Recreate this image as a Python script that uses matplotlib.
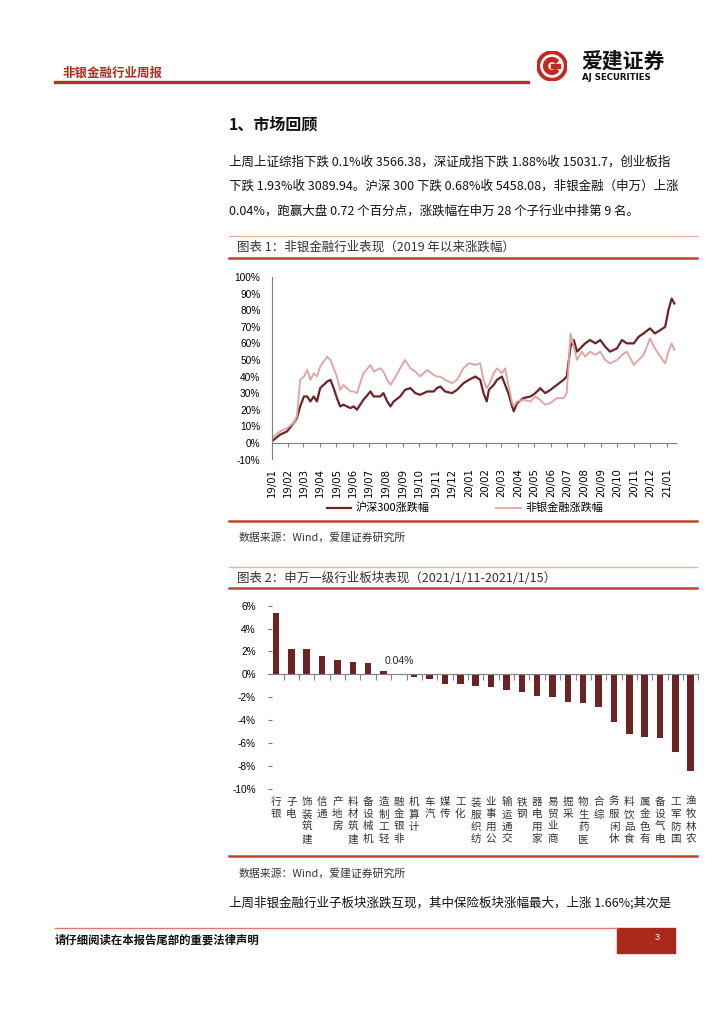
import numpy as np
import pandas as pd
import matplotlib
matplotlib.use("Agg")
import matplotlib.pyplot as plt
import matplotlib.dates as mdates
from matplotlib.patches import Circle, Wedge, Rectangle

plt.rcParams['font.family'] = ['Noto Sans CJK SC', 'DejaVu Sans']
plt.rcParams['axes.unicode_minus'] = False

W, H = 724, 1024

# chart 1: cumulative change since 2019 (%)
dates = ["2019-01-02", "2019-01-17", "2019-01-30", "2019-02-11", "2019-02-17", "2019-02-23",
         "2019-03-02", "2019-03-08", "2019-03-14", "2019-03-20", "2019-03-26", "2019-04-01",
         "2019-04-14", "2019-04-20", "2019-04-26", "2019-05-02", "2019-05-08", "2019-05-14",
         "2019-05-27", "2019-06-02", "2019-06-08", "2019-06-20", "2019-07-03", "2019-07-09",
         "2019-07-21", "2019-07-27", "2019-08-03", "2019-08-09", "2019-08-15", "2019-08-27",
         "2019-09-05", "2019-09-15", "2019-09-24", "2019-10-03", "2019-10-16", "2019-10-28",
         "2019-11-03", "2019-11-09", "2019-11-18", "2019-12-01", "2019-12-10", "2019-12-22",
         "2020-01-01", "2020-01-13", "2020-01-22", "2020-01-28", "2020-02-03", "2020-02-07",
         "2020-02-16", "2020-02-22", "2020-03-02", "2020-03-08", "2020-03-14", "2020-03-21",
         "2020-03-24", "2020-03-30", "2020-04-11", "2020-04-24", "2020-05-03", "2020-05-12",
         "2020-05-21", "2020-05-31", "2020-06-12", "2020-06-24", "2020-06-30", "2020-07-07",
         "2020-07-13", "2020-07-19", "2020-07-28", "2020-08-03", "2020-08-12", "2020-08-22",
         "2020-08-31", "2020-09-09", "2020-09-18", "2020-10-01", "2020-10-10", "2020-10-19",
         "2020-11-01", "2020-11-10", "2020-11-19", "2020-12-01", "2020-12-10", "2020-12-20",
         "2020-12-29", "2021-01-04", "2021-01-10", "2021-01-15"]
hs300 = [1, 5, 7, 12, 15, 22,
         28, 28, 25, 28, 25, 33,
         37, 38, 33, 27, 22, 23,
         21, 22, 20, 26, 31, 28,
         28, 30, 25, 22, 25, 28,
         32, 33, 30, 29, 31, 31,
         33, 34, 31, 30, 32, 36,
         38, 40, 38, 30, 25, 32,
         35, 38, 40, 35, 30, 22,
         19, 24, 27, 28, 30, 33,
         30, 32, 35, 38, 40, 58,
         62, 55, 58, 60, 62, 60,
         62, 58, 55, 57, 62, 60,
         60, 64, 66, 69, 66, 68,
         70, 80, 87, 84]
nonbank = [3, 7, 9, 12, 16, 38,
           40, 44, 38, 42, 40, 46,
           52, 50, 45, 40, 32, 35,
           31, 31, 30, 42, 47, 43,
           45, 43, 38, 35, 38, 45,
           50, 45, 43, 40, 44, 41,
           40, 40, 38, 36, 38, 45,
           48, 47, 48, 38, 33, 35,
           42, 45, 42, 45, 35, 24,
           22, 25, 26, 25, 28, 26,
           23, 24, 27, 27, 30, 66,
           58, 50, 55, 52, 55, 53,
           55, 50, 48, 50, 53, 55,
           47, 50, 53, 63, 57, 52,
           48, 55, 60, 56]

# chart 2: Shenwan level-1 industries, weekly change (%)
industries = ["银行", "电子", "建筑装饰", "通信", "房地产", "建筑材料", "机械设备",
              "轻工制造", "非银金融", "计算机", "汽车", "传媒", "化工", "纺织服装",
              "公用事业", "交通运输", "钢铁", "家用电器", "商业贸易", "采掘", "医药生物",
              "综合", "休闲服务", "食品饮料", "有色金属", "电气设备", "国防军工", "农林牧渔"]
weekly_chg = [5.33, 2.2, 2.18, 1.6, 1.25, 1.08, 1.02,
              0.3, 0.04, -0.23, -0.44, -0.85, -0.88, -1.0,
              -1.08, -1.37, -1.57, -1.9, -2.0, -2.4, -2.54,
              -2.9, -4.14, -5.2, -5.45, -5.54, -6.76, -8.5]

fig = plt.figure(figsize=(W / 100, H / 100), dpi=100)


def box(l, t, r, b):
    return [l / W, 1 - b / H, (r - l) / W, (b - t) / H]


def ftext(x, y, s, **kw):
    kw.setdefault('va', 'center')
    fig.text(x / W, 1 - y / H, s, **kw)


def hline(x0, x1, y, color, lw):
    fig.add_artist(plt.Line2D([x0 / W, x1 / W], [1 - y / H, 1 - y / H], color=color, lw=lw))


# header
ftext(62, 73, "非银金融行业周报", fontsize=9, weight='bold', color='#b0301e')
hline(55, 528, 82, '#b5311c', 2.4)
lg = fig.add_axes(box(537, 51, 567, 81))
lg.set_xlim(-1, 1)
lg.set_ylim(-1, 1)
lg.set_aspect('equal')
lg.axis('off')
lg.add_patch(Circle((0, 0), 1, color='#c22a1f'))
lg.add_patch(Circle((0, 0), 0.74, color='white'))
lg.add_patch(Wedge((0, 0), 0.56, 40, 320, width=0.26, color='#c22a1f'))
lg.add_patch(Rectangle((-0.05, -0.12), 0.55, 0.24, color='#c22a1f'))
ftext(581, 61, "爱建证券", fontsize=15, weight='bold', color='#111')
ftext(582, 78, "AJ SECURITIES", fontsize=6.2, weight='bold', color='#111',
      family=['DejaVu Sans'])

# section text
ftext(229, 124, "1、市场回顾", fontsize=11.5, weight='bold', color='#111')
para = ["上周上证综指下跌 0.1%收 3566.38，深证成指下跌 1.88%收 15031.7，创业板指",
        "下跌 1.93%收 3089.94。沪深 300 下跌 0.68%收 5458.08，非银金融（申万）上涨",
        "0.04%，跑赢大盘 0.72 个百分点，涨跌幅在申万 28 个子行业中排第 9 名。"]
for i, line in enumerate(para):
    ftext(229, 162 + i * 24.5, line, fontsize=9, color='#111')

# chart 1 frame
hline(229, 697, 236, '#eab2a4', 1.0)
ftext(237, 247, "图表 1：非银金融行业表现（2019 年以来涨跌幅）", fontsize=9, color='#333')
hline(229, 697, 258, '#c0442a', 1.8)

ax1 = fig.add_axes(box(271.5, 277, 676, 459.5))
d = pd.to_datetime(dates)
ax1.plot(d, hs300, color='#6c2428', lw=1.6, label='沪深300涨跌幅')
ax1.plot(d, nonbank, color='#e3a19f', lw=1.3, label='非银金融涨跌幅')
ax1.set_xlim(pd.Timestamp("2019-01-01"), pd.Timestamp("2021-01-18"))
ax1.set_ylim(-10, 100)
ax1.set_yticks(range(-10, 101, 10))
ax1.set_yticklabels([f"{v}%" for v in range(-10, 101, 10)])
ax1.tick_params(axis='y', length=0, pad=8, labelsize=7.3, labelfontfamily='Liberation Sans')
for s in ['top', 'right']:
    ax1.spines[s].set_visible(False)
ax1.spines['left'].set_color('#808080')
ax1.spines['left'].set_linewidth(0.8)
ax1.spines['bottom'].set_position(('data', 0))
ax1.spines['bottom'].set_color('#808080')
ax1.spines['bottom'].set_linewidth(0.8)
ax1.xaxis.set_major_locator(mdates.MonthLocator())
ax1.tick_params(axis='x', direction='out', length=3, color='#808080', labelbottom=False)
sec = ax1.secondary_xaxis(0)
sec.xaxis.set_major_locator(mdates.MonthLocator())
sec.xaxis.set_major_formatter(mdates.DateFormatter('%y/%m'))
sec.tick_params(length=0, pad=6, labelrotation=90, labelsize=7.3,
                labelfontfamily='Liberation Sans Narrow')
sec.spines['bottom'].set_visible(False)
ax1.legend(loc='center', bbox_to_anchor=(465 / W, 1 - 508 / H), bbox_transform=fig.transFigure,
           ncol=2, frameon=False, fontsize=8, handlelength=2.2, columnspacing=6.0,
           handletextpad=0.4)

hline(229, 697, 521, '#c0442a', 1.8)
ftext(239, 537, "数据来源：Wind，爱建证券研究所", fontsize=7.8, color='#333')

# chart 2 frame
hline(229, 697, 567, '#eab2a4', 1.0)
ftext(237, 578, "图表 2：申万一级行业板块表现（2021/1/11-2021/1/15）", fontsize=9, color='#333')
hline(229, 697, 588, '#c0442a', 1.8)

ax2 = fig.add_axes(box(268.3, 605.7, 698.4, 788.6))
x = np.arange(len(industries))
ax2.bar(x, weekly_chg, width=0.42, color='#6b2323')
ax2.set_xlim(-0.5, len(industries) - 0.5)
ax2.set_ylim(-10, 6)
ax2.set_yticks(range(-10, 7, 2))
ax2.set_yticklabels([f"{v}%" for v in range(-10, 7, 2)])
ax2.tick_params(axis='y', direction='in', length=3, color='#777', pad=9, labelsize=7.3,
                labelfontfamily='Liberation Sans')
for s in ['top', 'right', 'left']:
    ax2.spines[s].set_visible(False)
ax2.spines['bottom'].set_position(('data', 0))
ax2.spines['bottom'].set_color('#808080')
ax2.spines['bottom'].set_linewidth(0.8)
ax2.set_xticks(x + 0.5)
ax2.tick_params(axis='x', direction='out', length=4, color='#808080', labelbottom=False)
for i, name in enumerate(industries):
    ax2.text(i, -0.046, "\n".join(reversed(name)), transform=ax2.get_xaxis_transform(),
             ha='center', va='top', fontsize=7.6, linespacing=1.28, color='#333')
k = industries.index("非银金融")
ax2.annotate(f"{weekly_chg[k]:.2f}%", (k, weekly_chg[k]), xytext=(0, 9),
             textcoords='offset points', ha='center', va='center', fontsize=7.5,
             family=['Liberation Sans'], color='#222')

hline(229, 697, 856, '#c0442a', 1.8)
ftext(239, 873, "数据来源：Wind，爱建证券研究所", fontsize=7.8, color='#333')
ftext(229, 903, "上周非银金融行业子板块涨跌互现，其中保险板块涨幅最大，上涨 1.66%;其次是",
      fontsize=9, color='#111')

# footer
hline(55, 617, 928, '#e07a6a', 1.0)
fig.add_artist(Rectangle((617 / W, 1 - 953 / H), 58 / W, 25 / H, color='#a9291b',
                         transform=fig.transFigure))
ftext(655, 937, "3", fontsize=6.5, color='white', family=['Liberation Sans'])
ftext(55, 940, "请仔细阅读在本报告尾部的重要法律声明", fontsize=8.2, weight='bold', color='#111')

fig.savefig("out.png", dpi=100)
